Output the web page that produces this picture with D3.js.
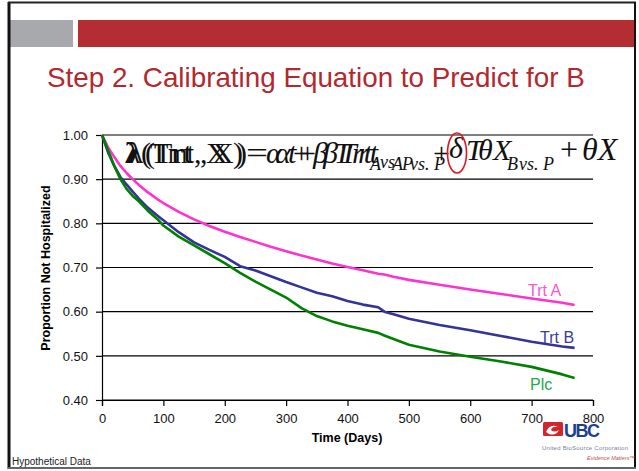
<!DOCTYPE html>
<html><head><meta charset="utf-8">
<script src="https://cdn.jsdelivr.net/npm/d3@7"></script>
<style>body{margin:0;background:#fff}svg{display:block}</style>
</head><body>
<svg id="c" width="639" height="471"></svg>
<script>
// ---- data ----
const days = [0,10,20,30,40,50,60,75,90,100,125,150,175,200,225,250,275,300,325,350,375,400,425,450,460,475,500,550,600,650,700,750,770];
const trtA = [1.00,0.972,0.950,0.930,0.914,0.900,0.887,0.870,0.855,0.846,0.826,0.809,0.794,0.781,0.769,0.758,0.747,0.737,0.727,0.718,0.709,0.701,0.694,0.686,0.684,0.679,0.672,0.661,0.650,0.640,0.630,0.620,0.615];
const trtB = [1.00,0.960,0.930,0.905,0.888,0.872,0.856,0.835,0.818,0.807,0.780,0.757,0.740,0.724,0.703,0.693,0.680,0.667,0.655,0.643,0.635,0.624,0.616,0.610,0.600,0.594,0.584,0.570,0.558,0.545,0.532,0.521,0.518];
const plc  = [1.00,0.965,0.930,0.900,0.878,0.862,0.850,0.828,0.810,0.795,0.770,0.750,0.730,0.710,0.688,0.668,0.650,0.632,0.608,0.590,0.578,0.568,0.560,0.552,0.546,0.538,0.525,0.510,0.498,0.487,0.475,0.458,0.450];
const seriesNames = ["Trt A","Trt B","Plc"];
const yTicks = [0.4,0.5,0.6,0.7,0.8,0.9,1.0];
const xTicks = [0,100,200,300,400,500,600,700,800];
const title = "Step 2. Calibrating Equation to Predict for B";

const svg = d3.select("#c");
const x = d3.scaleLinear().domain([0,800]).range([102,593]);
const y = d3.scaleLinear().domain([0.4,1.0]).range([400,135]);
const SANS = "Liberation Sans, Arial, sans-serif";

// slide frame
svg.append("rect").attr("x",0).attr("y",0).attr("width",639).attr("height",471).attr("fill","#fff");
svg.append("rect").attr("x",10).attr("y",20).attr("width",63).attr("height",27).attr("fill","#a7a9ac");
svg.append("rect").attr("x",78).attr("y",20).attr("width",557).attr("height",27).attr("fill","#b32d32");
svg.append("line").attr("x1",9).attr("x2",9).attr("y1",2).attr("y2",469).attr("stroke","#111").attr("stroke-width",3);
svg.append("line").attr("x1",8).attr("x2",636).attr("y1",2.5).attr("y2",2.5).attr("stroke","#222").attr("stroke-width",2);
svg.append("line").attr("x1",635).attr("x2",635).attr("y1",2).attr("y2",469).attr("stroke","#111").attr("stroke-width",2);
svg.append("line").attr("x1",8).attr("x2",636).attr("y1",468).attr("y2",468).attr("stroke","#666").attr("stroke-width",2);

// title
const t = svg.append("text").attr("x",47).attr("y",87).attr("fill","#b3282e")
  .style("font-family",SANS).style("font-size","26px").text(title);
const w = t.node().getComputedTextLength();
t.style("font-size",(26*538/w).toFixed(2)+"px");

// logo (drawn before axis labels)
const logo = svg.append("g");
logo.append("rect").attr("x",543).attr("y",422).attr("width",20).attr("height",14).attr("rx",1.5).attr("fill","#d0262c");
logo.append("path").attr("d","M546,432 q4,-9 12,-5 q-6,-1 -7,3 q3,3 8,0 q-3,6 -10,4 z").attr("fill","#fff");
logo.append("text").attr("x",564).attr("y",436.5).attr("fill","#1d3f8f").style("font-family",SANS)
  .style("font-size","18px").style("font-weight","bold").attr("textLength",36).text("UBC");
logo.append("text").attr("x",542).attr("y",450).attr("fill","#7a7f9a").style("font-family",SANS)
  .style("font-size","6px").attr("textLength",86).text("United BioSource Corporation");
logo.append("text").attr("x",587).attr("y",460).attr("fill","#c0504d").style("font-family",SANS)
  .style("font-size","5.5px").style("font-style","italic").text("Evidence Matters\u2122");

// gridlines
svg.append("g").selectAll("line").data(yTicks).join("line")
  .attr("x1",x(0)).attr("x2",x(800)).attr("y1",d=>y(d)).attr("y2",d=>y(d))
  .attr("stroke","#000").attr("stroke-width",1.2);

// y axis
const yAxis = svg.append("g").attr("transform",`translate(${x(0)},0)`)
  .call(d3.axisLeft(y).tickValues(yTicks).tickFormat(d3.format(".2f")).tickSize(6).tickPadding(8));
yAxis.select(".domain").attr("stroke","#000").attr("stroke-width",1.2);
yAxis.selectAll(".tick line").attr("stroke","#000").attr("stroke-width",1.2);
yAxis.selectAll("text").style("font-family",SANS).style("font-size","13px").attr("fill","#111");

// x axis
const xAxis = svg.append("g").attr("transform",`translate(0,${y(0.4)})`)
  .call(d3.axisBottom(x).tickValues(xTicks).tickFormat(d3.format("d")).tickSize(6).tickPadding(8));
xAxis.select(".domain").attr("stroke","#000").attr("stroke-width",1.2);
xAxis.selectAll(".tick line").attr("stroke","#000").attr("stroke-width",1.2);
xAxis.selectAll("text").style("font-family",SANS).style("font-size","13px").attr("fill","#111");

// axis titles
svg.append("text").attr("x",347).attr("y",442).attr("text-anchor","middle")
  .style("font-family",SANS).style("font-size","12.5px").style("font-weight","bold").text("Time (Days)");
svg.append("text").attr("transform","translate(50,268) rotate(-90)").attr("text-anchor","middle")
  .style("font-family",SANS).style("font-size","12.5px").style("font-weight","bold").text("Proportion Not Hospitalized");

// curves
const line = d3.line().x((d,i)=>x(days[i])).y(d=>y(d));
const lineColors = ["#ff33cc","#333399","#008000"];
const labelColors = ["#ff55cc","#3b3b9e","#22aa44"];
[trtA,trtB,plc].forEach((s,k)=>{
  svg.append("path").datum(s).attr("d",line).attr("fill","none")
    .attr("stroke",lineColors[k]).attr("stroke-width",2.6).attr("stroke-linejoin","round");
});
const labelPos = [[528,296],[540,343],[530,390]];
seriesNames.forEach((n,k)=>{
  svg.append("text").attr("x",labelPos[k][0]).attr("y",labelPos[k][1]).attr("fill",labelColors[k])
    .style("font-family",SANS).style("font-size","16px").text(n);
});

// equation: overprinted pieces, as in the slide
const eq = svg.append("text").attr("fill","#111")
  .style("font-family","Liberation Serif, 'Times New Roman', serif");
const pieces = [
  // [x, y, text, size, italic, bold, length]
  [125,163,"\u03bb",30,false,true,null],
  [128,163,"\u03bb",30,false,true,null],
  [141,163,"(",30,false,false,null],
  [145,163,"(",30,false,false,null],
  [150,163,"T",30,false,false,null],
  [154,163,"T",30,false,false,null],
  [168,163,"mt",30,false,false,26],
  [171,163,"rt",30,false,false,22],
  [194,163,",",30,false,false,null],
  [200,163,",",30,false,false,null],
  [206,163,"X",30,false,false,null],
  [212,163,"X",30,false,false,null],
  [233,163,")",30,false,false,null],
  [237,163,")",30,false,false,null],
  [246,163,"=",30,false,false,22],
  [266,163,"\u03b1",30,true,false,null],
  [275,163,"\u03b1",30,true,false,null],
  [288,163,"t",30,true,false,null],
  [293,163,"+",30,false,false,null],
  [299,163,"+",30,false,false,null],
  [313,163,"\u03b2",30,true,false,null],
  [323,163,"\u03b2",30,true,false,null],
  [334,163,"T",30,true,false,null],
  [340,163,"T",30,true,false,null],
  [352,163,"rt",30,true,false,null],
  [358,163,"rt",30,true,false,null],
  [370,170,"A",18,true,false,null],
  [380,168,"vs",18,true,false,null],
  [392,170,"A",18,true,false,null],
  [402,170,"P",18,true,false,null],
  [410,170,"vs. P",18,true,false,null],
  [433,163,"+",30,false,false,null],
  [449,158,"\u03b4",30,true,false,null],
  [466,160,"T",30,true,false,null],
  [478,160,"\u03b8",30,true,false,null],
  [493,160,"X",30,true,false,null],
  [507,170,"B",18,true,false,null],
  [519,170,"vs. P",18,true,false,null],
  [560,160,"+",32,false,false,null],
  [582,160,"\u03b8X",32,true,false,null]
];
pieces.forEach(p=>{
  const s = eq.append("tspan").attr("x",p[0]).attr("y",p[1]).style("font-size",p[3]+"px")
    .style("font-style",p[4]?"italic":"normal").style("font-weight",p[5]?"bold":"normal").text(p[2]);
  if(p[6]) s.attr("textLength",p[6]).attr("lengthAdjust","spacingAndGlyphs");
});
svg.append("ellipse").attr("cx",457).attr("cy",153).attr("rx",9.5).attr("ry",20)
  .attr("fill","none").attr("stroke","#e8141e").attr("stroke-width",1.6);

// footer
svg.append("text").attr("x",12).attr("y",465).style("font-family",SANS)
  .style("font-size","10px").attr("fill","#222").text("Hypothetical Data");
</script>
</body></html>
